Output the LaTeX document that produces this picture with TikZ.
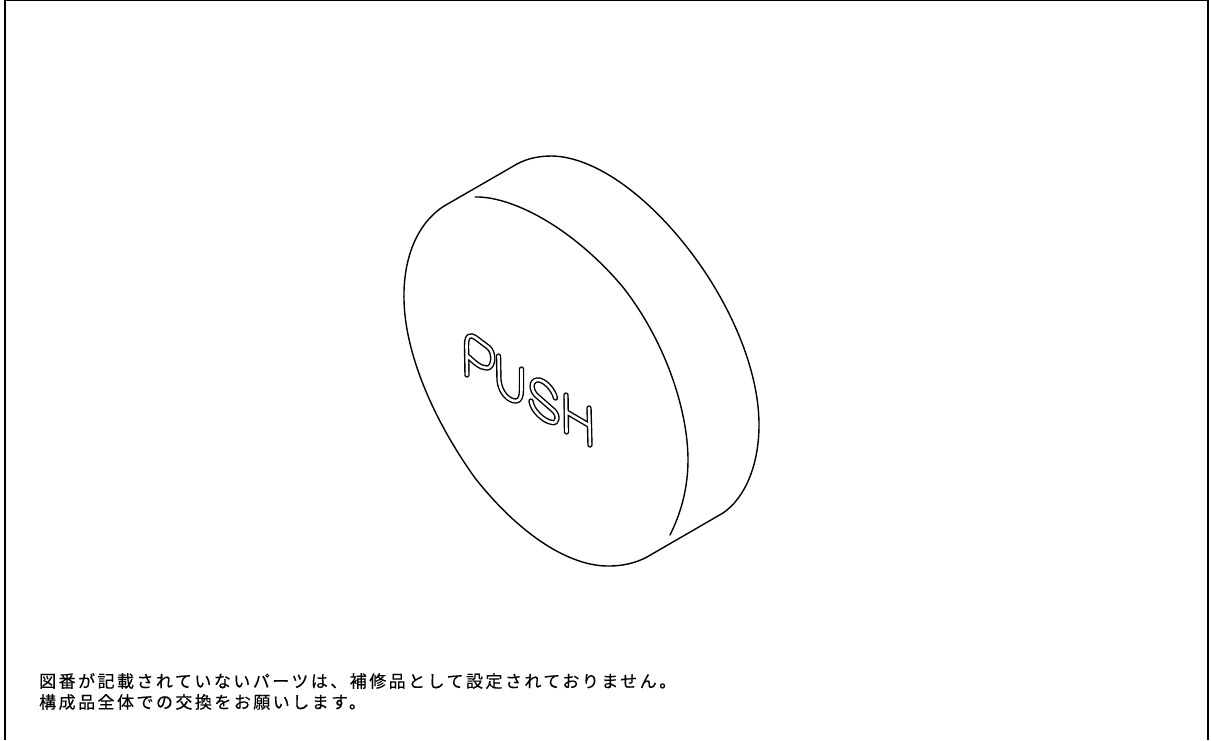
\documentclass[tikz,border=0pt]{standalone}
\usepackage{fontspec}
\newfontfamily\cjk[LetterSpace=14.5,FakeBold=0.15]{Noto Sans CJK JP}
\tikzset{
  frameline/.style={line width=1.3pt,black},
  bodyline/.style={line width=1.4pt,black,line cap=round,line join=round},
  glyphout/.style={line width=5.4pt,black,line cap=round,line join=round},
  glyphin/.style={line width=2.6pt,white,line cap=round,line join=round},
  notetext/.style={inner sep=0pt,anchor=west,font=\cjk\fontsize{17}{17}\selectfont}
}
\newcommand{\pushglyphs}[1]{%
  \draw[#1] (467,375) -- (466.5,346) .. controls (466.5,335) and (470,334) .. (476,338) -- (488,347) .. controls (495,352) and (494,368) .. (487,368) .. controls (480,368) and (474,362) .. (466.5,355);
  \draw[#1] (498.5,356) -- (499,380) .. controls (500,392) and (508,401) .. (516,401) .. controls (520,401) and (521.5,396) .. (521.5,390) -- (521.5,369);
  \draw[#1] (555.5,398) .. controls (553,388) and (543,379) .. (537,380) .. controls (530,381) and (531,391) .. (537,396) -- (553,410) .. controls (559,415) and (558,424) .. (552,422.5) .. controls (543,421) and (532,410) .. (531,401);
  \draw[#1] (566,395) -- (566.5,432);
  \draw[#1] (589,408) -- (590,445);
  \draw[#1] (566.5,412) -- (589.5,425.5);
}
\begin{document}
\begin{tikzpicture}[x=1pt,y=-1pt]
\useasboundingbox (0,0) rectangle (1211,740);
\draw[frameline] (5,740) -- (5,0.5) -- (1208,0.5) -- (1208,740);
\coordinate (a) at (445,205.5);
\coordinate (b) at (517,164);
\coordinate (c) at (723,513);
\coordinate (d) at (647,557);
\draw[bodyline] (a) .. controls (415,224) and (403,262) .. (404,300)
  .. controls (405,350) and (430,415) .. (475,478)
  .. controls (520,535) and (570,567) .. (610,566)
  .. controls (622,566) and (636,563) .. (d);
\draw[bodyline] (a) -- (b);
\draw[bodyline] (d) -- (c);
\draw[bodyline] (b) .. controls (528,158) and (540,156) .. (552,156)
  .. controls (600,157) and (660,205) .. (705,272)
  .. controls (740,325) and (759,380) .. (759,425)
  .. controls (759,465) and (745,498) .. (c);
\draw[bodyline] (475,197) .. controls (510,196) and (570,225) .. (622,286)
  .. controls (665,340) and (688,410) .. (688,460)
  .. controls (688,490) and (680,515) .. (670,535);
\pushglyphs{glyphout}
\pushglyphs{glyphin}
\node[notetext] (l1) at (39,681) {図番が記載されていないパーツは、補修品として設定されておりません。};
\node[notetext] (l2) at (39,702) {構成品全体での交換をお願いします。};
\end{tikzpicture}
\end{document}
